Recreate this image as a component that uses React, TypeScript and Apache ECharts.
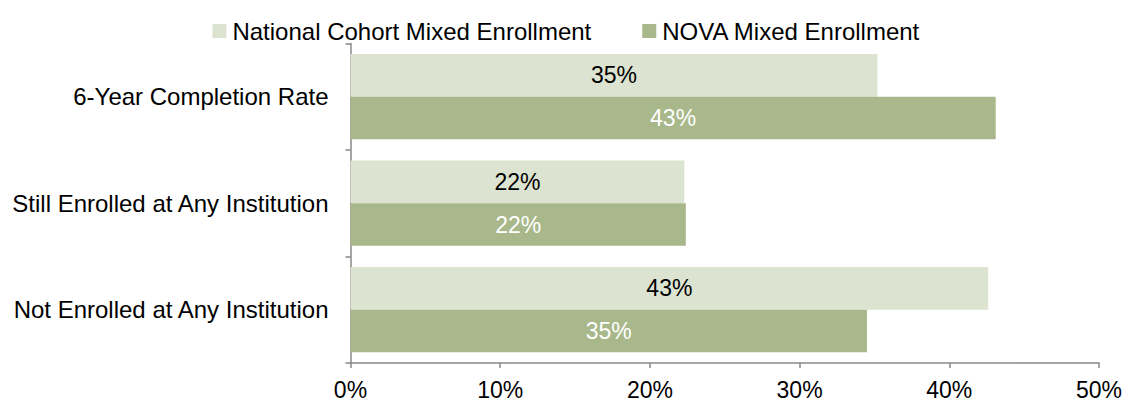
import React, { useEffect, useRef } from "react";
import * as echarts from "echarts";

const categories = ["6-Year Completion Rate", "Still Enrolled at Any Institution", "Not Enrolled at Any Institution"];
const nationalValues = [35.2, 22.3, 42.6];
const novaValues = [43.1, 22.4, 34.5];
const seriesNames = ["National Cohort Mixed Enrollment", "NOVA Mixed Enrollment"];
const xTicks = [0, 10, 20, 30, 40, 50];

export default function App() {
  const ref = useRef<HTMLDivElement>(null);
  useEffect(() => {
    const chart = echarts.init(ref.current!, null, { renderer: "svg" });
    const font = "Liberation Sans, Arial, sans-serif";
    chart.setOption({
      animation: false,
      textStyle: { fontFamily: font },
      legend: {
        top: 6,
        left: "center",
        itemWidth: 14,
        itemHeight: 14,
        itemGap: 51,
        icon: "rect",
        textStyle: { fontSize: 24, color: "#000", fontFamily: font, padding: [0, 0, 0, 1] },
        data: seriesNames,
      },
      grid: { left: 339, right: 17, top: 35.4, bottom: 31.7, containLabel: false },
      xAxis: {
        type: "value",
        min: xTicks[0],
        max: xTicks[xTicks.length - 1],
        interval: 10,
        axisLine: { show: true, lineStyle: { color: "#888", width: 1.5 } },
        axisTick: { show: true, length: 5, lineStyle: { color: "#888", width: 1.5 } },
        splitLine: { show: false },
        axisLabel: { formatter: "{value}%", fontSize: 23, color: "#000", margin: 15, fontFamily: font },
      },
      yAxis: {
        type: "category",
        inverse: true,
        data: categories,
        axisLine: { show: true, lineStyle: { color: "#888", width: 1.5 } },
        axisTick: { show: true, length: 5, lineStyle: { color: "#888", width: 1.5 } },
        axisLabel: { fontSize: 24, color: "#000", margin: 22, fontFamily: font },
      },
      series: [
        {
          name: seriesNames[0],
          type: "bar",
          data: nationalValues,
          barGap: "0%",
          barCategoryGap: "20%",
          itemStyle: { color: "#dce3d0" },
          label: {
            show: true,
            position: "inside",
            color: "#000",
            fontSize: 23,
            fontFamily: font,
            formatter: (p: any) => Math.round(p.value) + "%",
          },
        },
        {
          name: seriesNames[1],
          type: "bar",
          data: novaValues,
          barGap: "0%",
          barCategoryGap: "20%",
          itemStyle: { color: "#a8b88a" },
          label: {
            show: true,
            position: "inside",
            color: "#fff",
            fontSize: 23,
            fontFamily: font,
            formatter: (p: any) => Math.round(p.value) + "%",
          },
        },
      ],
    });
    return () => chart.dispose();
  }, []);
  return <div ref={ref} style={{ width: 1117, height: 393 }} />;
}
